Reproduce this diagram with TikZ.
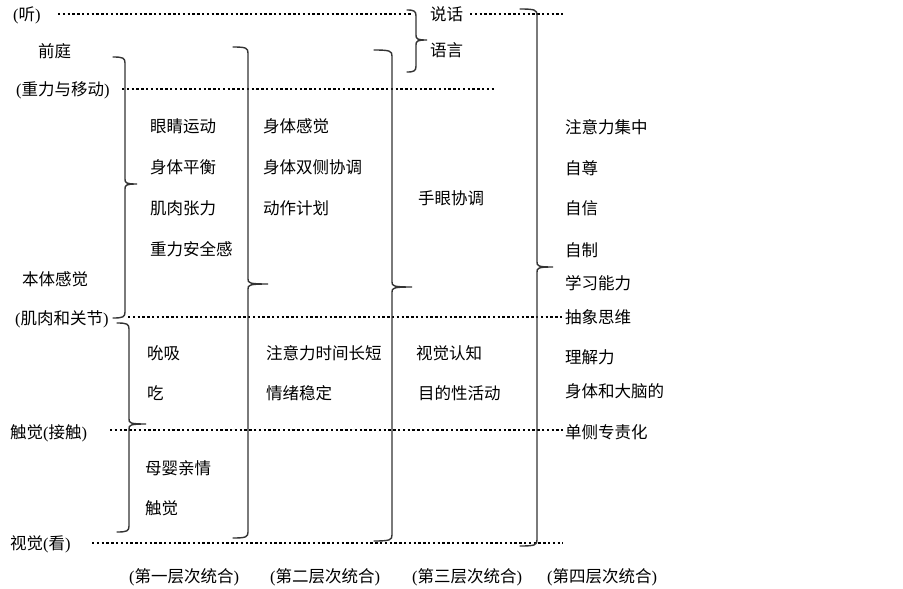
\documentclass[tikz,border=0pt]{standalone}
\usepackage{fontspec}
\setmainfont{Noto Sans CJK SC}
\newfontfamily\latf{Liberation Serif}
\newcommand\lp{{\latf(}}
\newcommand\rp{{\latf)}}
\newcommand\mybrace[6]{%
  \draw[bracestyle] ({#1-#5},#2) .. controls ({#1-2},#2) and (#1,{#2+1}) .. (#1,{#2+6})
    -- (#1,{#3-5}) .. controls (#1,{#3-1}) and ({#1+1},#3) .. ({#1+#6},#3)
    .. controls ({#1+1},#3) and (#1,{#3+1}) .. (#1,{#3+5})
    -- (#1,{#4-6}) .. controls (#1,{#4-1}) and ({#1-2},#4) .. ({#1-#5},#4);}
\begin{document}
\begin{tikzpicture}[x=1pt,y=-1pt,
  lbl/.style={anchor=west,inner sep=0pt,text height=.88em,text depth=.12em,
    yshift=-2.5pt,font=\fontsize{16.5}{20}\selectfont},
  clbl/.style={lbl,anchor=center},
  dotline/.style={line width=2.3pt,dash pattern=on 2.3pt off 2.5pt,black},
  bracestyle/.style={line width=1.4pt,draw=black!80,line cap=round}]
\useasboundingbox (0,0) rectangle (903,589);
% dotted level lines
\draw[dotline] (58,14) -- (412,14);
\draw[dotline] (470,14) -- (563,14);
\draw[dotline] (122,89) -- (495,89);
\draw[dotline] (128,317) -- (563,317);
\draw[dotline] (110,430) -- (563,430);
\draw[dotline] (92,543) -- (563,543);
% braces
\mybrace{125}{57}{184}{318}{12}{12}
\mybrace{129}{323}{424}{532}{12}{17}
\mybrace{248}{47}{284}{538}{15}{20}
\mybrace{392}{50}{287}{541}{18}{20}
\mybrace{537}{9}{267}{546}{17}{16}
\mybrace{416}{10}{40}{72}{9}{11}
% left labels
\node[lbl] (ting) at (13,14) {\lp 听\rp};
\node[lbl] (qt) at (38,51) {前庭};
\node[lbl] (zl) at (16,89) {\lp 重力与移动\rp};
\node[lbl] (bt) at (22,279) {本体感觉};
\node[lbl] (jr) at (15,318) {\lp 肌肉和关节\rp};
\node[lbl] (cj) at (10,432) {触觉\lp 接触\rp};
\node[lbl] (sj) at (10,543) {视觉\lp 看\rp};
% column 1
\node[lbl] (a1) at (150,126) {眼睛运动};
\node[lbl] (a2) at (150,167) {身体平衡};
\node[lbl] (a3) at (150,208) {肌肉张力};
\node[lbl] (a4) at (150,249) {重力安全感};
\node[lbl] (a5) at (147,353) {吮吸};
\node[lbl] (a6) at (147,393) {吃};
\node[lbl] (a7) at (145,468) {母婴亲情};
\node[lbl] (a8) at (145,508) {触觉};
% column 2
\node[lbl] (b1) at (263,126) {身体感觉};
\node[lbl] (b2) at (263,167) {身体双侧协调};
\node[lbl] (b3) at (263,208) {动作计划};
\node[lbl] (b4) at (266,353) {注意力时间长短};
\node[lbl] (b5) at (266,393) {情绪稳定};
% column 3
\node[lbl] (c1) at (418,198) {手眼协调};
\node[lbl] (c2) at (416,353) {视觉认知};
\node[lbl] (c3) at (418,393) {目的性活动};
% column 4
\node[lbl] (d0) at (430,14) {说话};
\node[lbl] (d00) at (430,50) {语言};
\node[lbl] (d1) at (565,127) {注意力集中};
\node[lbl] (d2) at (565,168) {自尊};
\node[lbl] (d3) at (565,208) {自信};
\node[lbl] (d4) at (565,250) {自制};
\node[lbl] (d5) at (565,283) {学习能力};
\node[lbl] (d6) at (565,317) {抽象思维};
\node[lbl] (d7) at (565,357) {理解力};
\node[lbl] (d8) at (565,391) {身体和大脑的};
\node[lbl] (d9) at (565,432) {单侧专责化};
% bottom captions
\node[clbl] (l1) at (184,576) {\lp 第一层次统合\rp};
\node[clbl] (l2) at (325,576) {\lp 第二层次统合\rp};
\node[clbl] (l3) at (467,576) {\lp 第三层次统合\rp};
\node[clbl] (l4) at (602,576) {\lp 第四层次统合\rp};
\end{tikzpicture}
\end{document}
